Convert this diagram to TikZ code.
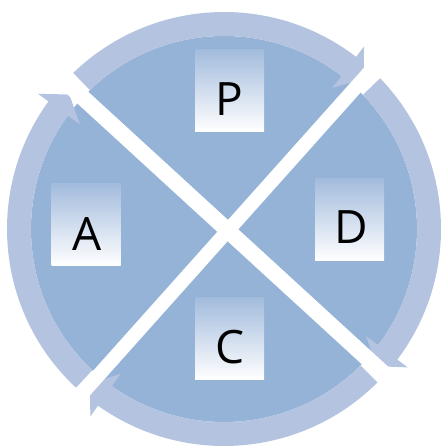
\documentclass[tikz,border=0pt]{standalone}
\usepackage{fontspec}
\setmainfont{Open Sans}
\definecolor{disc}{RGB}{149,179,215}
\definecolor{ringc}{RGB}{180,196,224}
\definecolor{boxtop}{RGB}{163,188,221}
\definecolor{boxmid}{RGB}{226,233,244}
\newcommand\cyclearrow[3]{%
  \fill[ringc] (#1:217) arc[start angle=#1, end angle=#2, radius=217]
    -- (#2:230) -- (#3:205) -- (#2:178) -- (#2:193)
    arc[start angle=#2, end angle=#1, radius=193] -- cycle;}
\begin{document}
\begin{tikzpicture}[x=1pt,y=1pt,
  lblbox/.style={shade, top color=boxtop, middle color=boxmid, bottom color=white,
    minimum width=69pt, minimum height=82pt, inner sep=0pt},
  letter/.style={font=\fontsize{46}{46}\selectfont, inner sep=0pt, anchor=base},
  band/.style={white, line width=15pt}]
\useasboundingbox (0,0) rectangle (441,447);
\coordinate (O) at (224,218);
\fill[disc] (O) circle[radius=193];
\begin{scope}[shift={(O)}]
  \cyclearrow{134}{52.5}{47}
  \cyclearrow{44}{-37}{-42}
  \cyclearrow{-45}{-125.5}{-131}
  \cyclearrow{227}{144}{139}
\end{scope}
% white cross
\coordinate (s1) at (437.6,451.1);
\coordinate (s2) at (24.8,-10.7);
\coordinate (b1) at (-22.5,445.9);
\coordinate (b2) at (467.5,-3.3);
\draw[band, line width=14pt] (s1) -- (s2);
\draw[band, line width=16pt] (b1) -- (b2);
% label boxes
\node[lblbox] (Pbox) at (229.5,356) {};
\node[lblbox] (Dbox) at (349.5,227) {};
\node[lblbox] (Abox) at (86,222) {};
\node[lblbox] (Cbox) at (229.5,108) {};
\node[letter] (P) at (229,331) {P};
\node[letter] (D) at (351,203) {D};
\node[letter] (A) at (87.5,196.3) {A};
\node[letter] (C) at (230,83) {C};
\end{tikzpicture}
\end{document}
